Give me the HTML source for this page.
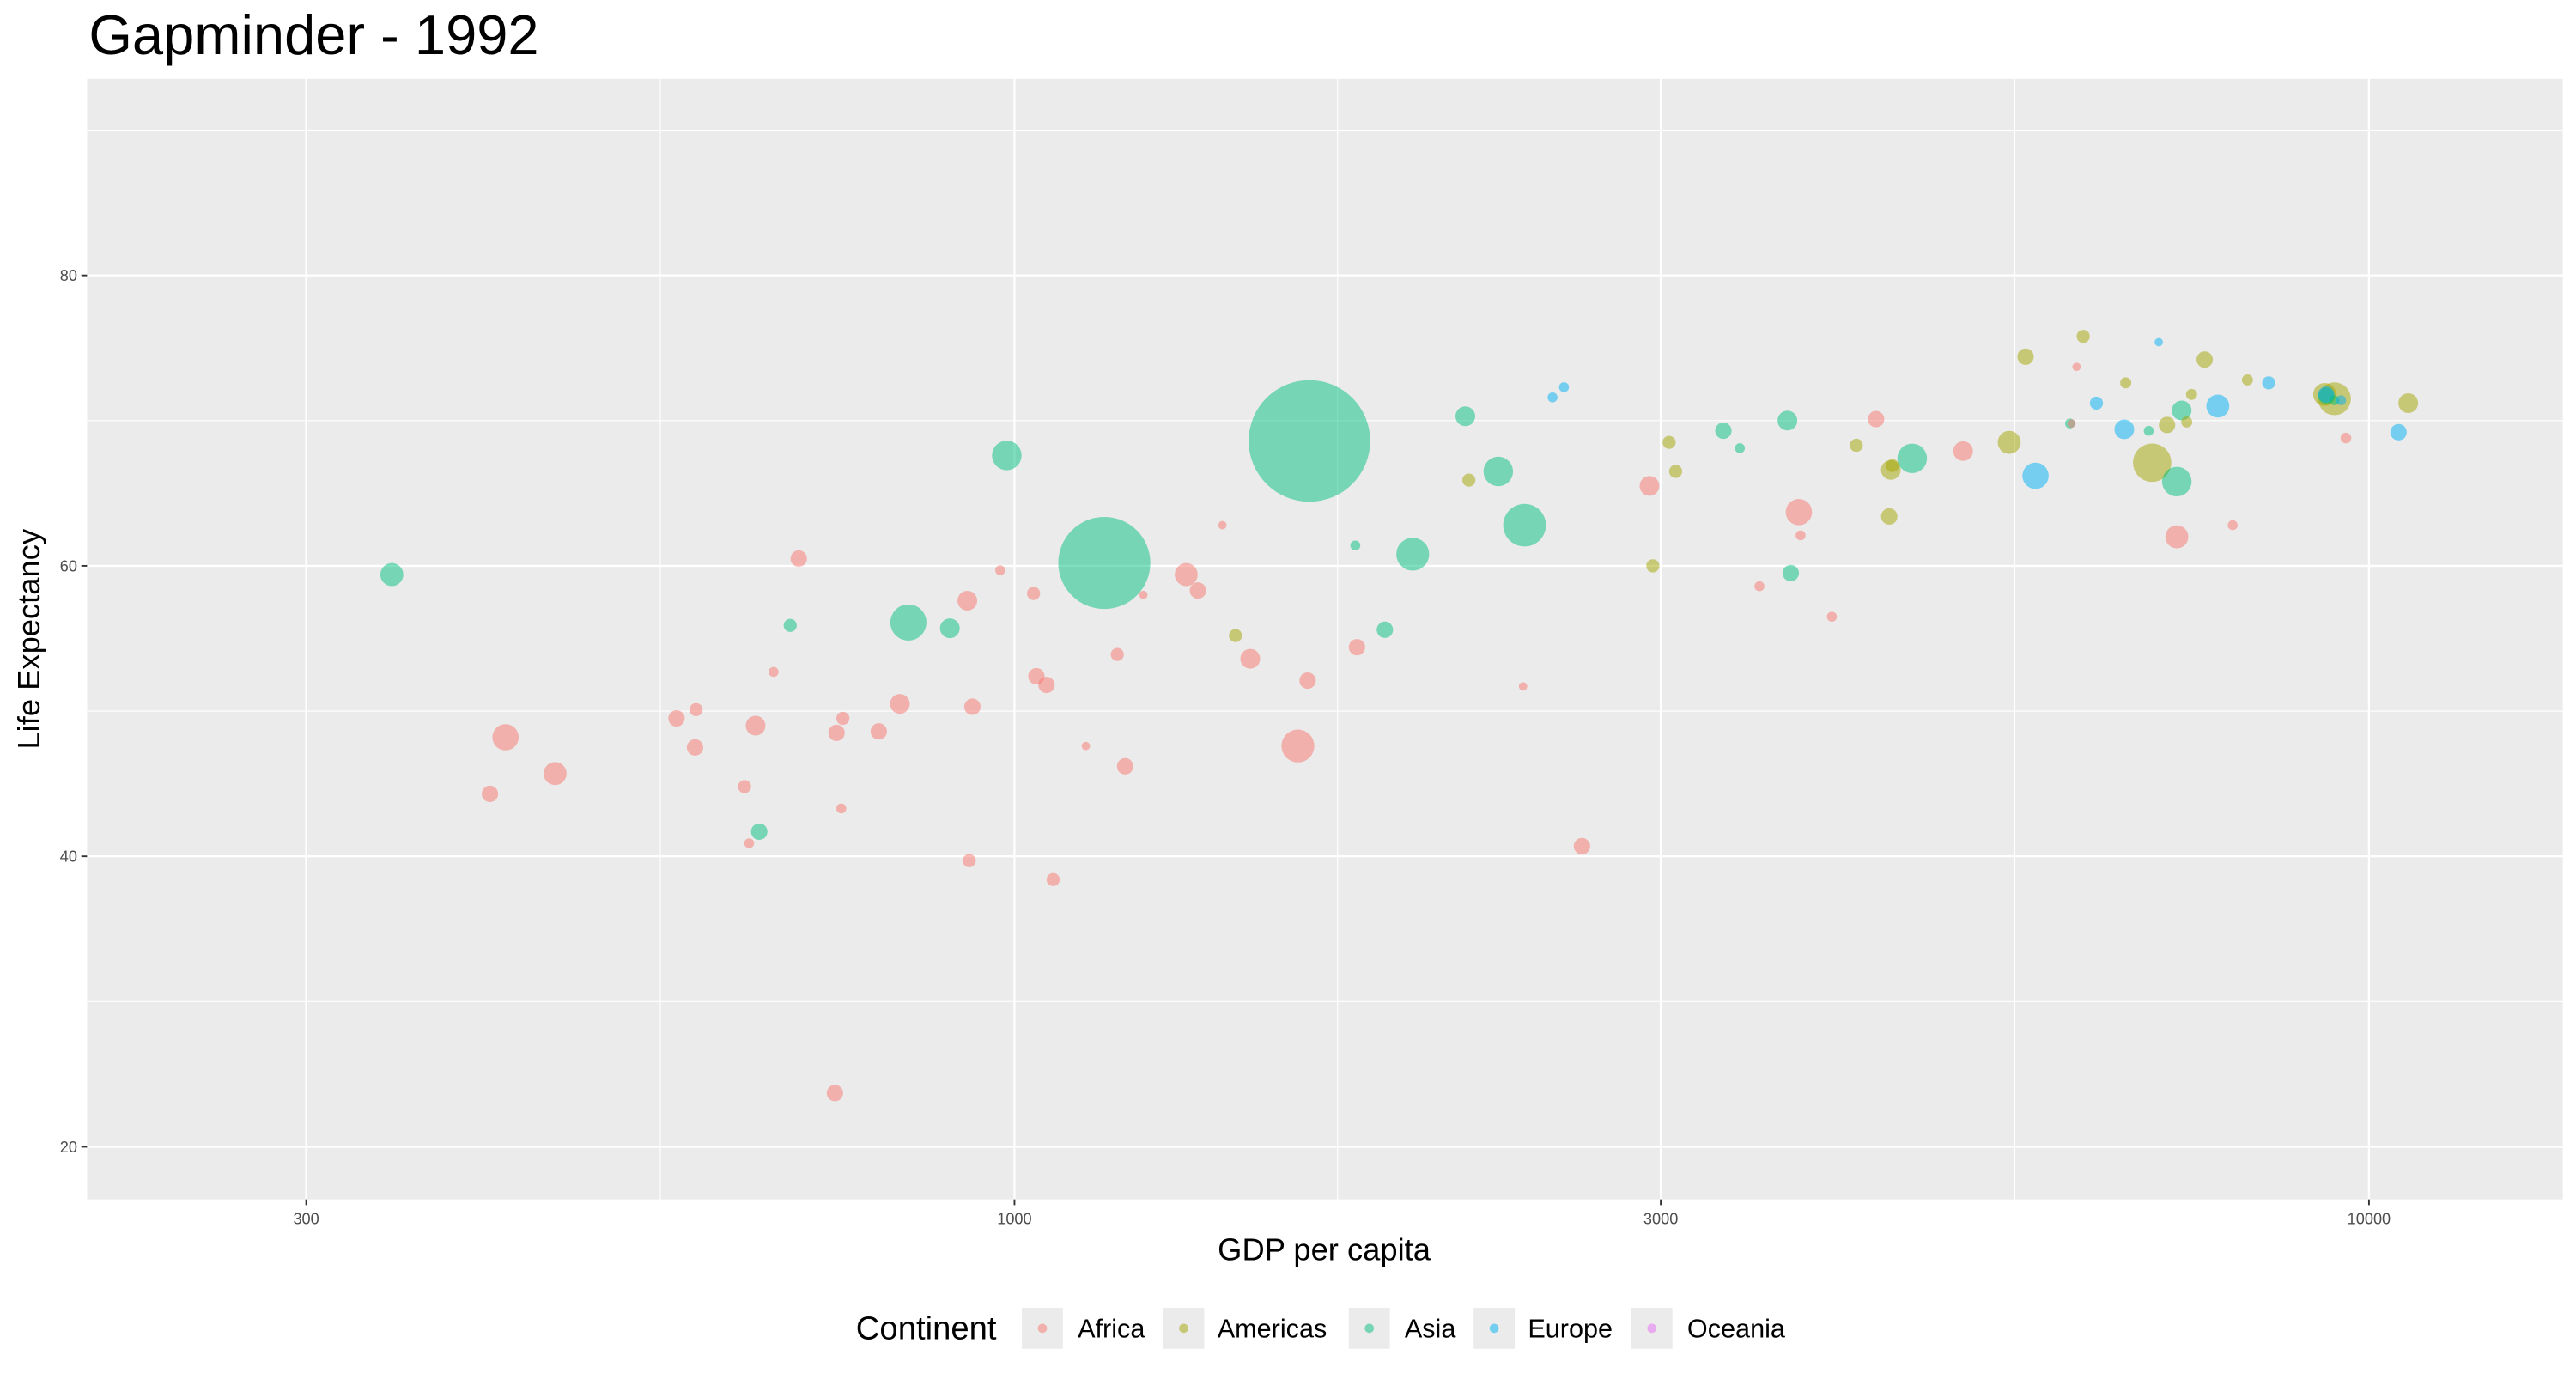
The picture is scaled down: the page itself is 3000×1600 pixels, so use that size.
<!DOCTYPE html>
<html><head><meta charset="utf-8"><style>
html,body{margin:0;padding:0;background:#fff;}
svg{display:block;font-family:"Liberation Sans",Arial,sans-serif;}
</style></head><body>
<svg id="chart" width="3000" height="1600" viewBox="0 0 1568 836.27" xmlns="http://www.w3.org/2000/svg">
<rect x="0" y="0" width="1568" height="836.27" fill="#fff"/>
<text x="54" y="33" font-size="34" fill="#000">Gapminder - 1992</text>
<rect x="53" y="48" width="1507" height="682" fill="#ebebeb"/>
<g id="grid"></g>
<g id="points"></g>
<g id="axes"></g>
<text x="806" y="767" font-size="19" text-anchor="middle" fill="#000">GDP per capita</text>
<text transform="translate(24,389) rotate(-90)" font-size="19" text-anchor="middle" fill="#000">Life Expectancy</text>
<g id="legend">
<text x="521" y="815" font-size="20" fill="#000">Continent</text>
</g>
</svg>
<script>
const categories = ["Africa","Americas","Asia","Europe","Oceania"];
const colors = ["#F8766D","#A3A500","#00BF7D","#00B0F6","#E76BF3"];
const xTicks = [300,1000,3000,10000];
const xTickLabels = ["300","1000","3000","10000"];
const xMinor = [547.7,1732,5477];
const yTicks = [20,40,60,80];
const yTickLabels = ["20","40","60","80"];
const yMinor = [30,50,70,90];
// [gdpPercap, lifeExp, pop (millions)]
const africa = [[410,44.3,8.6],[421,48.2,34.6],[458,45.7,24],[563,49.5,8.6],[581,47.5,8.6],[582,50.1,3.8],[632,44.8,3.8],[637,40.9,1],[644,49.0,15.4],[664,52.7,1],[693,60.5,8.6],[739,48.5,8.6],[747,49.5,3.8],[745,43.3,1],[737,23.7,8.6],[794,48.6,8.6],[823,50.5,15.4],[923,57.6,15.4],[931,50.3,8.6],[926,39.7,3.8],[976,59.7,1],[1033,58.1,3.8],[1038,52.4,8.6],[1056,51.8,8.6],[1068,38.4,3.8],[1129,47.6,0.3],[1191,53.9,3.8],[1207,46.2,8.6],[1245,58.0,0.3],[1339,59.4,24],[1366,58.3,8.6],[1424,62.8,0.3],[1493,53.6,15.4],[1619,47.6,61.5],[1646,52.1,8.6],[1790,54.4,8.6],[2374,51.7,0.3],[2624,40.7,8.6],[2943,65.5,15.4],[3548,58.6,1],[3794,63.7,34.6],[3805,62.1,1],[4013,56.5,1],[4326,70.1,8.6],[5016,67.9,15.4],[6031,69.8,0.3],[6083,73.7,0.3],[7213,62.0,24],[7932,62.8,1],[9616,68.8,1.5]];
const americas = [[1456,55.2,3.8],[2165,65.9,3.8],[2960,60.0,3.8],[3043,68.5,3.8],[3077,66.5,3.8],[4183,68.3,3.8],[4424,63.4,8.6],[4436,66.6,15.4],[4448,66.9,3.8],[5425,68.5,24],[5578,74.4,8.6],[6152,75.8,3.8],[6613,72.6,1.8],[6917,67.1,90],[7094,69.7,8.6],[7336,69.9,1.8],[7396,71.8,1.8],[7563,74.2,8.6],[8133,72.8,1.8],[9274,71.8,24],[9430,71.5,61.5],[10690,71.2,15.4]];
const asia = [[347,59.4,24],[648,41.7,8.6],[683,55.9,3.8],[835,56.1,78],[896,55.7,15.4],[987,67.6,47],[1165,60.2,650],[1651,68.6,1177],[1785,61.4,1],[1877,55.6,8.6],[1968,60.8,61.5],[2152,70.3,15.4],[2276,66.5,47],[2380,62.8,116],[3337,69.3,8.6],[3432,68.1,1],[3721,70.0,15.4],[3742,59.5,8.6],[4600,67.4,47],[6015,69.8,1],[6877,69.3,1],[7213,65.8,47],[7273,70.7,15.4],[9299,71.7,8.6],[9430,71.4,1]];
const europe = [[2496,71.6,1],[2545,72.3,1],[5673,66.2,34.6],[6292,71.2,3.8],[6597,69.4,15.4],[6995,75.4,0.3],[7734,71.0,24],[8433,72.6,3.8],[9299,71.8,8.6],[9537,71.4,1],[10515,69.2,8.6]];
const oceania = [];
const series = [africa, americas, asia, europe, oceania];

const NS = "http://www.w3.org/2000/svg";
const P = {l:53, r:1560, t:48, b:730};
function xScale(g){ return 617.5 + (Math.log10(g) - 3) * 824.5; }
function yScale(v){ return 698 - (v - 20) * 8.84; }
function rScale(p){ return 2 + 1.02 * Math.sqrt(p); }
function mk(tag, attrs, parent){ const e=document.createElementNS(NS,tag); for(const k in attrs) e.setAttribute(k,attrs[k]); parent.appendChild(e); return e; }

const grid = document.getElementById('grid');
xMinor.forEach(v=>{ const l=mk('line',{x1:xScale(v),x2:xScale(v),y1:P.t,y2:P.b,stroke:'#fff','stroke-width':0.6},grid);

 });
yMinor.forEach(v=>{ const l=mk('line',{x1:P.l,x2:P.r,y1:yScale(v),y2:yScale(v),stroke:'#fff','stroke-width':0.6},grid);

 });
xTicks.forEach(v=>{ const l=mk('line',{x1:xScale(v),x2:xScale(v),y1:P.t,y2:P.b,stroke:'#fff','stroke-width':1.2},grid);

 });
yTicks.forEach(v=>{ const l=mk('line',{x1:P.l,x2:P.r,y1:yScale(v),y2:yScale(v),stroke:'#fff','stroke-width':1.2},grid);

 });

const axes = document.getElementById('axes');
xTicks.forEach((v,i)=>{
  const t=mk('line',{x1:xScale(v),x2:xScale(v),y1:P.b,y2:P.b+3.5,stroke:'#333','stroke-width':1},axes);
  
  
  const s=mk('text',{x:xScale(v),y:P.b+15,'font-size':9.5,fill:'#4d4d4d','text-anchor':'middle'},axes);
  s.textContent=xTickLabels[i];
  
  
});
yTicks.forEach((v,i)=>{
  const t=mk('line',{x1:P.l-3.5,x2:P.l,y1:yScale(v),y2:yScale(v),stroke:'#333','stroke-width':1},axes);
  
  
  const s=mk('text',{x:P.l-6,y:yScale(v)+3.4,'font-size':9.5,fill:'#4d4d4d','text-anchor':'end'},axes);
  s.textContent=yTickLabels[i];
  
  
});

const pts = document.getElementById('points');
const all = [];
series.forEach((arr,ci)=>arr.forEach(d=>all.push([d,ci])));
all.sort((a,b)=>b[0][2]-a[0][2]);
all.forEach(([d,ci])=>{
  const c=mk('circle',{cx:xScale(d[0]),cy:yScale(d[1]),r:rScale(d[2]),fill:colors[ci],'fill-opacity':0.5},pts);
  
  
});

const leg = document.getElementById('legend');
const keyX = [622,708,821,897,993];
const textX = [656,741,855,930,1027];
categories.forEach((name,i)=>{
  const k=mk('rect',{x:keyX[i],y:796,width:25,height:25,fill:'#ebebeb'},leg);
  
  
  const c=mk('circle',{cx:keyX[i]+12.5,cy:808.5,r:2.8,fill:colors[i],'fill-opacity':0.5},leg);
  
  
  const t=mk('text',{x:textX[i],y:814,'font-size':16,fill:'#000'},leg);
  t.textContent=name;
  
  
});
</script>
</body></html>
